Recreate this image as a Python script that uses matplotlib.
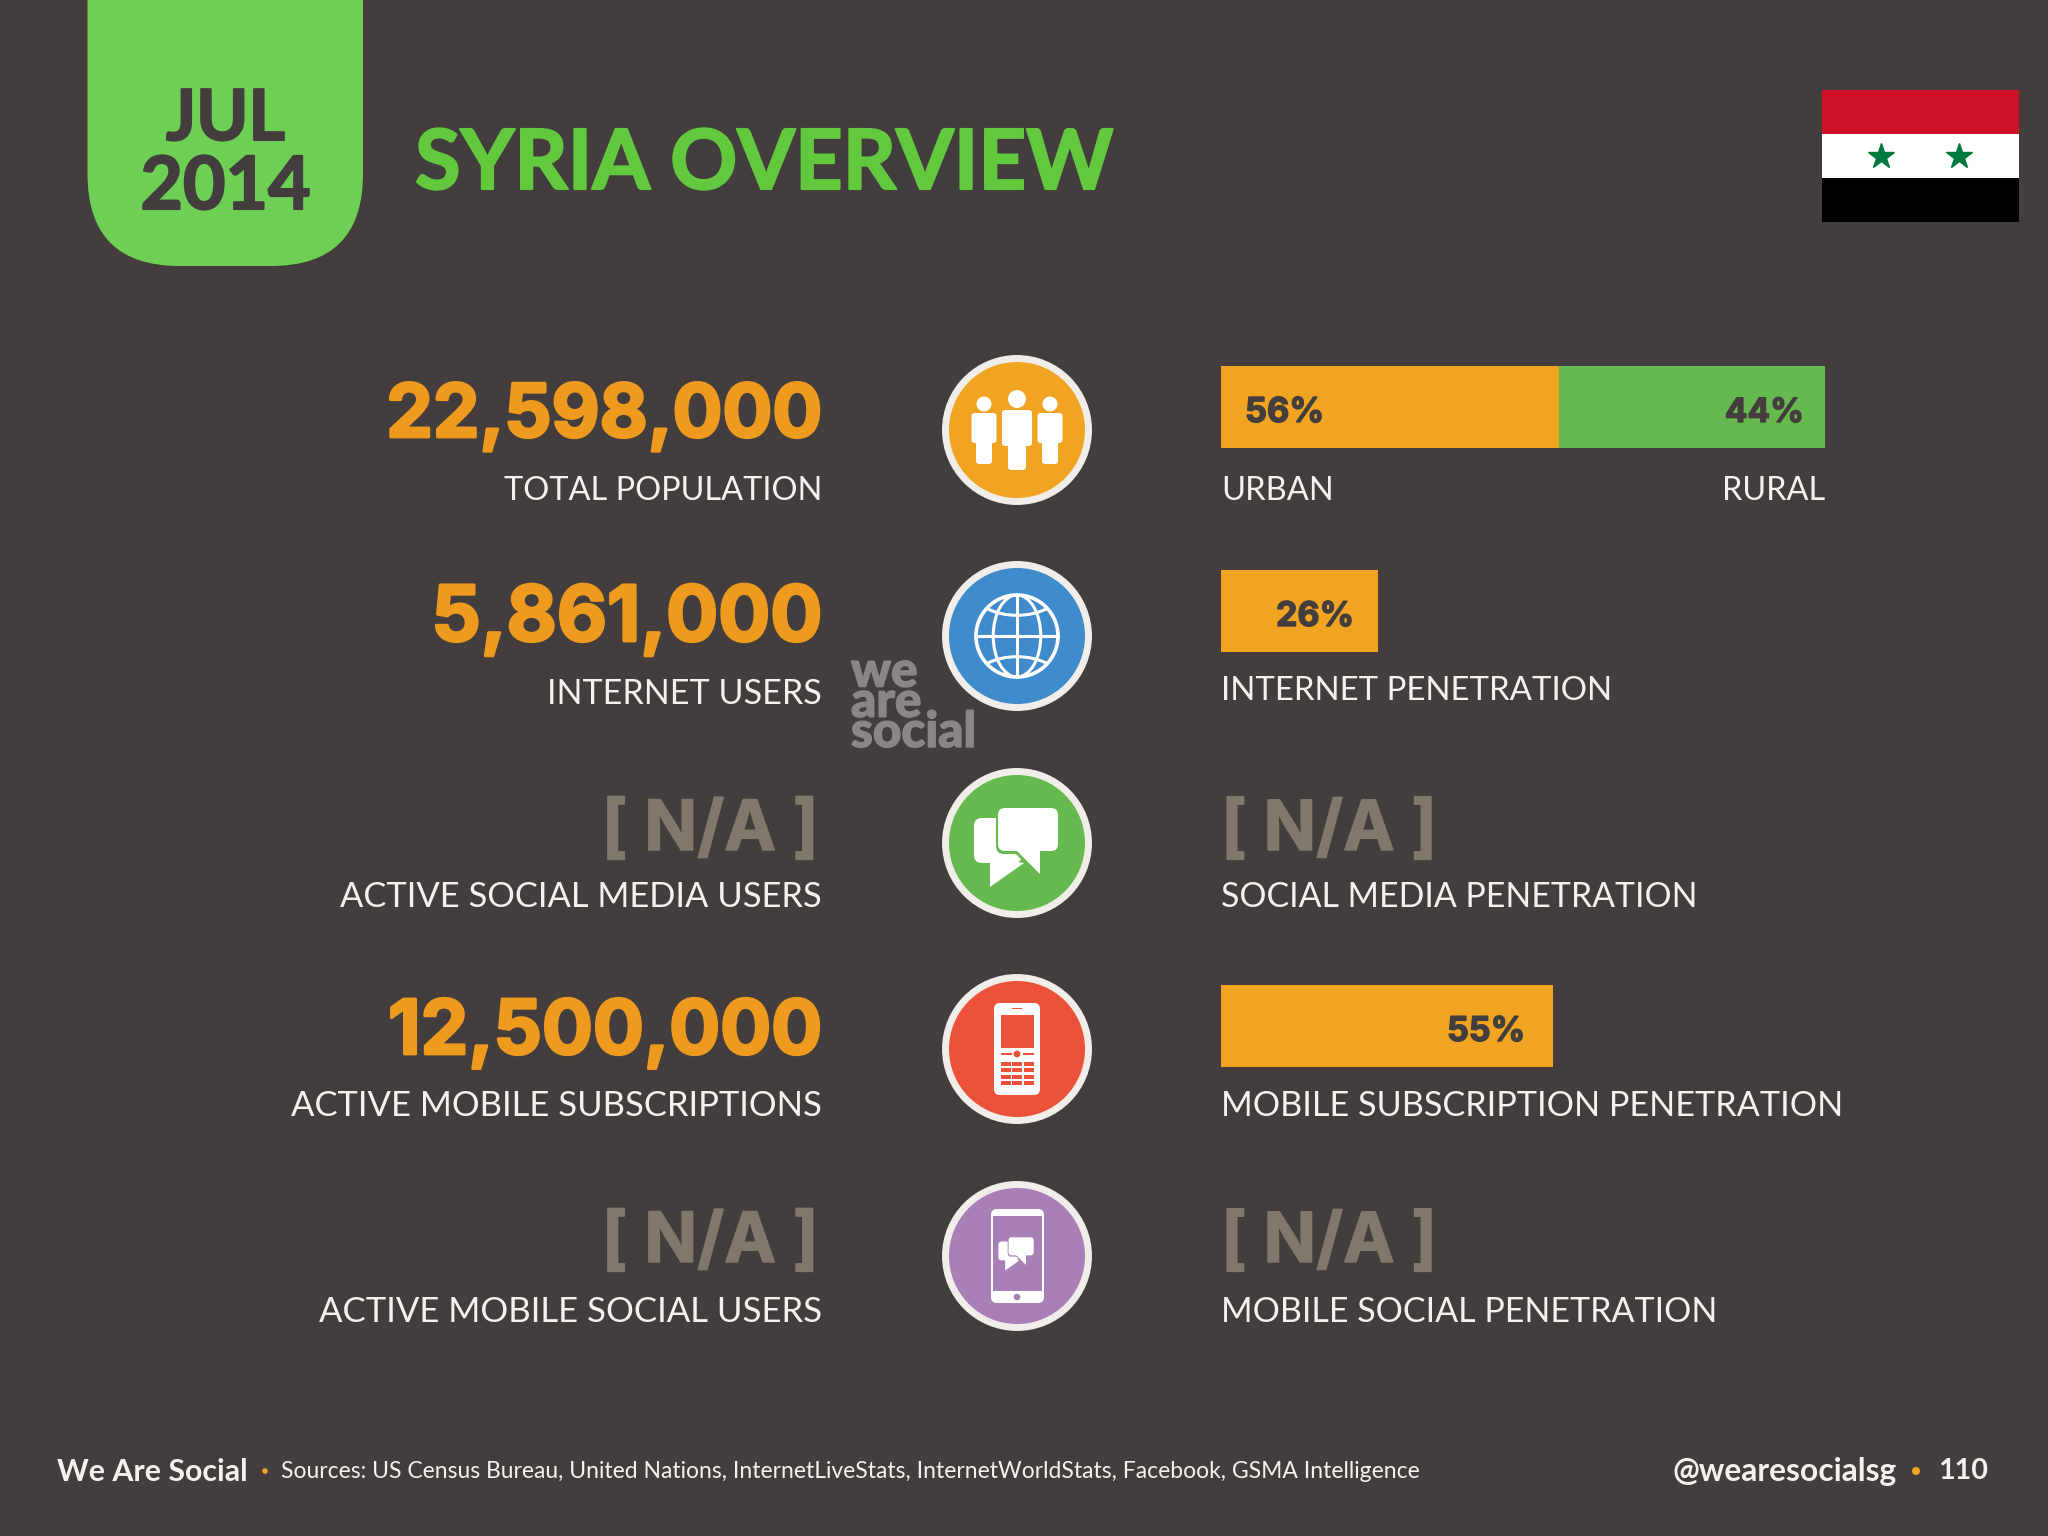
import matplotlib
matplotlib.use("Agg")
import matplotlib.pyplot as plt
import matplotlib.patheffects as pe
from matplotlib.patches import Circle, Ellipse, FancyBboxPatch, Polygon, Rectangle

# data
left_values = [22598000, 5861000, None, 12500000, None]
left_labels = ["TOTAL POPULATION", "INTERNET USERS", "ACTIVE SOCIAL MEDIA USERS",
               "ACTIVE MOBILE SUBSCRIPTIONS", "ACTIVE MOBILE SOCIAL USERS"]
urban_rural = [56, 44]
urban_rural_labels = ["URBAN", "RURAL"]
penetration = [None, 26, None, 55, None]
right_labels = [None, "INTERNET PENETRATION", "SOCIAL MEDIA PENETRATION",
                "MOBILE SUBSCRIPTION PENETRATION", "MOBILE SOCIAL PENETRATION"]
sources = "Sources: US Census Bureau, United Nations, InternetLiveStats, InternetWorldStats, Facebook, GSMA Intelligence"

BG = "#433E3D"
ORANGE = "#EE9A1E"
BAR_ORANGE = "#F0A421"
BAR_GREEN = "#66B94F"
GREY = "#7F786C"
WHITE = "#F4F1EE"
RING = "#F1EEEA"

fig = plt.figure(figsize=(20.48, 15.36), dpi=100, facecolor=BG)
ax = fig.add_axes([0, 0, 1, 1])
ax.set_xlim(0, 2048)
ax.set_ylim(1536, 0)
ax.axis("off")
rend = fig.canvas.get_renderer()


# place text and scale the font until it is as wide as in the slide
def put(x, y, s, width, color=WHITE, ha="left", weight="normal", family="Lato", stroke=0, spacing=1.2):
    t = ax.text(x, y, s, color=color, ha=ha, va="baseline", fontsize=30,
                fontweight=weight, family=family, linespacing=spacing)
    w = t.get_window_extent(rend).width
    t.set_fontsize(30 * width / w)
    if stroke:
        t.set_path_effects([pe.withStroke(linewidth=stroke, foreground=color)])
    return t


def bubble(x0, y0, x1, y1, r, color, edge=None, lw=0, z=4):
    ax.add_patch(FancyBboxPatch((x0 + r, y0 + r), x1 - x0 - 2 * r, y1 - y0 - 2 * r,
                                boxstyle="round,pad=%f,rounding_size=%f" % (r, r),
                                fc=color, ec=edge if edge else color, lw=lw, zorder=z))


def people(cx, cy):
    # dx, head y, head r, body half width, body top, body bottom, leg half width, leg bottom
    for dx, hy, hr, bw, bt, bb, lw, lb in [(-33, -26, 7.5, 12.5, -17, 13, 8, 34),
                                           (33, -26, 7.5, 12.5, -17, 13, 8, 34),
                                           (0, -31, 9, 15, -20, 16, 9, 40)]:
        ax.add_patch(Circle((cx + dx, cy + hy), hr, fc="white", zorder=4))
        bubble(cx + dx - bw, cy + bt, cx + dx + bw, cy + bb, 3, "white")
        bubble(cx + dx - lw, cy + bb - 6, cx + dx + lw, cy + lb, 3, "white")


def globe(cx, cy):
    R = 41
    clip = Circle((cx, cy), R, transform=ax.transData)
    ax.add_patch(Circle((cx, cy), R, fc="none", ec="white", lw=2.6, zorder=4))
    shapes = [Ellipse((cx, cy), 2 * R * 0.58, 2 * R, fc="none", ec="white", lw=2.2, zorder=4),
              Ellipse((cx, cy - R * 1.03), 2 * R * 1.0, R * 1.05, fc="none", ec="white", lw=2.2, zorder=4),
              Ellipse((cx, cy + R * 1.03), 2 * R * 1.0, R * 1.05, fc="none", ec="white", lw=2.2, zorder=4)]
    for s in shapes:
        ax.add_patch(s)
        s.set_clip_path(clip)
    ax.plot([cx, cx], [cy - R, cy + R], color="white", lw=2.2, zorder=4)
    ax.plot([cx - R, cx + R], [cy, cy], color="white", lw=2.2, zorder=4)


def chat(cx, cy, k, color, z=4):
    bubble(cx - 43 * k, cy - 25 * k, cx + 5 * k, cy + 20 * k, 8 * k, "white", z=z)
    ax.add_patch(Polygon([(cx - 27 * k, cy + 15 * k), (cx - 27 * k, cy + 44 * k), (cx + 7 * k, cy + 20 * k)],
                         fc="white", ec="none", zorder=z))
    # dark outline of the front bubble, then the bubble and its tail
    ax.add_patch(Polygon([(cx - 4 * k, cy + 8 * k), (cx + 23 * k, cy + 8 * k), (cx + 23 * k, cy + 36 * k)],
                         fc=color, ec="none", zorder=z + 0.1))
    bubble(cx - 21 * k, cy - 37 * k, cx + 41 * k, cy + 11 * k, 8 * k, color, z=z + 0.1)
    bubble(cx - 19 * k, cy - 35 * k, cx + 41 * k, cy + 8 * k, 7 * k, "white", z=z + 0.2)
    ax.add_patch(Polygon([(cx - 1 * k, cy + 7 * k), (cx + 23 * k, cy + 7 * k), (cx + 23 * k, cy + 31 * k)],
                         fc="white", ec="none", zorder=z + 0.2))


def phone(cx, cy, color):
    bubble(cx - 23, cy - 46, cx + 23, cy + 46, 6, "white")
    ax.add_patch(Rectangle((cx - 16, cy - 34), 33, 33, fc=color, zorder=5))
    ax.add_patch(Rectangle((cx - 5, cy - 41.5), 10, 1.6, fc=color, zorder=5))
    ax.add_patch(Circle((cx, cy + 5), 3.4, fc=color, zorder=5))
    ax.add_patch(Rectangle((cx - 16, cy + 4), 11, 2, fc=color, zorder=5))
    ax.add_patch(Rectangle((cx + 6, cy + 4), 11, 2, fc=color, zorder=5))
    for col in range(3):
        for row in range(4):
            ax.add_patch(Rectangle((cx - 16.5 + col * 11.6, cy + 12.5 + row * 6.5), 10, 4, fc=color, zorder=5))


def smartphone(cx, cy, color):
    bubble(cx - 26, cy - 47, cx + 27, cy + 47, 6, "white")
    ax.add_patch(Rectangle((cx - 24, cy - 40), 49, 75, fc=color, ec="none", zorder=5))
    ax.add_patch(Circle((cx, cy + 41), 3.3, fc=color, zorder=5))
    chat(cx - 0.5, cy - 4, 0.42, color, z=6)


# header
ax.add_patch(FancyBboxPatch((87.5 + 92, -100), 275.5 - 184, 366 - 92,
                            boxstyle="round,pad=92,rounding_size=92", fc="#6ECF55", ec="none", zorder=1))
put(225.5, 140, "JUL", 119, BG, "center", "bold", stroke=1.5)
put(225.5, 209, "2014", 170, BG, "center", "bold", stroke=1.5)
put(415, 189, "SYRIA OVERVIEW", 698, "#62C93F", "left", "bold", stroke=1.5)

# flag
ax.add_patch(Rectangle((1822, 90), 197, 44, fc="#CE1126", zorder=2))
ax.add_patch(Rectangle((1822, 134), 197, 44, fc="white", zorder=2))
ax.add_patch(Rectangle((1822, 178), 197, 44, fc="black", zorder=2))
ax.plot([1881, 1959], [156, 156], ls="none", marker="*", ms=19, mfc="#007A3D", mec="#007A3D", zorder=3)

# rows
value_base = [437, 641, 850, 1054, 1262]
value_left = [387, 432, 602, 389, 602]
label_base = [500, 704, 907, 1116, 1322]
label_left = [505, 548, 341, 292, 319]
icon_y = [430, 636, 843, 1049, 1256]
icon_colors = [BAR_ORANGE, "#408BCB", "#66B94F", "#EC523A", "#A97FB8"]
for i in range(5):
    if left_values[i] is not None:
        put(822, value_base[i], format(left_values[i], ","), 822 - value_left[i], ORANGE, "right", "bold", "Inter", 2)
    else:
        put(819, value_base[i], "[ N/A ]", 819 - value_left[i], GREY, "right", "bold", "Inter", 1)
    put(822, label_base[i], left_labels[i], 822 - label_left[i], WHITE, "right")
    ax.add_patch(Circle((1017, icon_y[i]), 71.5, fc=icon_colors[i], ec=RING, lw=5, zorder=3))

people(1017, icon_y[0])
globe(1017, icon_y[1])
chat(1017, icon_y[2], 1, icon_colors[2])
phone(1017, icon_y[3], icon_colors[3])
smartphone(1017, icon_y[4], icon_colors[4])

# bars, 604 px of slide = 100%
BAR_X = 1221
SCALE = 6.04
BAR_H = 82
ax.barh(407, urban_rural[0] * SCALE, height=BAR_H, left=BAR_X, color=BAR_ORANGE, zorder=2)
ax.barh(407, urban_rural[1] * SCALE, height=BAR_H, left=BAR_X + urban_rural[0] * SCALE, color=BAR_GREEN, zorder=2)
put(1245, 422, "%d%%" % urban_rural[0], 79, BG, "left", "bold", "Inter", 1)
put(1804, 422, "%d%%" % urban_rural[1], 79, BG, "right", "bold", "Inter", 1)
put(BAR_X, 500, urban_rural_labels[0], 1333 - 1221)
put(1825, 500, urban_rural_labels[1], 1825 - 1722, WHITE, "right")

pen_base = [None, 700, 907, 1116, 1322]
pen_right = [None, 1611, 1696, 1842, 1716]
bar_y = [None, 611, None, 1026, None]
pct_base = [None, 626, None, 1041, None]
pct_left = [None, 1276, None, 1447, None]
for i in range(1, 5):
    if penetration[i] is not None:
        ax.barh(bar_y[i], penetration[i] * SCALE, height=BAR_H, left=BAR_X, color=BAR_ORANGE, zorder=2)
        put(pct_left[i], pct_base[i], "%d%%" % penetration[i], 78, BG, "left", "bold", "Inter", 1)
    else:
        put(BAR_X, value_base[i], "[ N/A ]", 216, GREY, "left", "bold", "Inter", 1)
    put(BAR_X, pen_base[i], right_labels[i], pen_right[i] - BAR_X)

# watermark
put(851, 747, "we\nare\nsocial", 125, "#8A8685", "left", "black", spacing=0.6, stroke=1)

# footer
put(57, 1481, "We Are Social", 190, WHITE, "left", "bold")
ax.add_patch(Circle((265, 1471), 2.8, fc=BAR_ORANGE, zorder=3))
put(281, 1478, sources, 1131, WHITE)
put(1672, 1481, "@wearesocialsg", 224, WHITE, "left", "bold")
ax.add_patch(Circle((1916, 1471), 4, fc=BAR_ORANGE, zorder=3))
put(1938, 1479, "110", 50, WHITE, "left", "bold")

fig.savefig("out.png", dpi=100, facecolor=BG)
